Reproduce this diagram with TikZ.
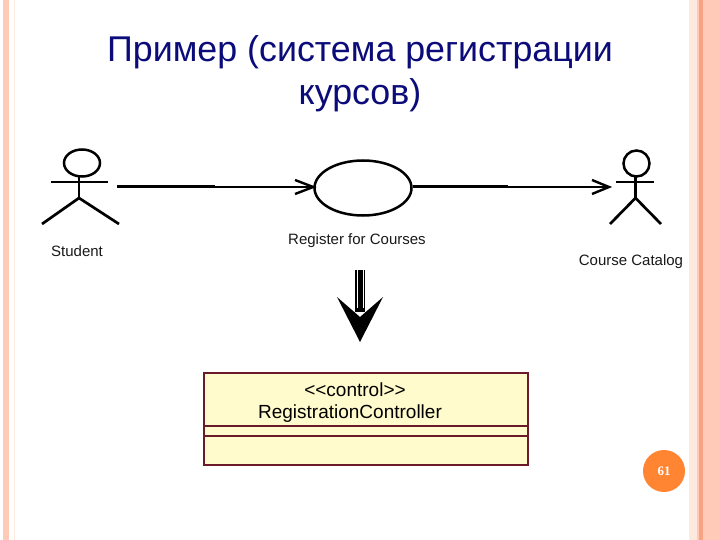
\documentclass[tikz,border=0pt]{standalone}
\usepackage{fontspec}
\usetikzlibrary{shapes.geometric}
\setmainfont{Liberation Sans}
\newfontfamily\badgefont{Liberation Serif}
\definecolor{bandsalmon}{HTML}{FFCBB8}
\definecolor{bandorange}{HTML}{F9A385}
\definecolor{bandpale}{HTML}{FDE9DE}
\definecolor{classfill}{HTML}{FFFBCC}
\definecolor{classrule}{HTML}{6B1A2A}
\definecolor{badgecol}{HTML}{FF8533}
\definecolor{titleblue}{HTML}{0B0B7A}
\tikzset{
  ink/.style={draw=black,line width=2.7pt},
  assocthick/.style={draw=black,line width=3pt},
  assocthin/.style={draw=black,line width=2pt},
  barb/.style={draw=black,line width=2.4pt},
  labeltxt/.style={inner sep=0pt,font=\fontsize{15}{17}\selectfont,text=black!90},
  classtxt/.style={inner sep=0pt,font=\fontsize{19}{21}\selectfont,text=black},
  classline/.style={draw=classrule,line width=1.6pt},
  titletxt/.style={inner sep=0pt,font=\fontsize{35.8}{40}\selectfont,text=titleblue},
  headshape/.style={ellipse,draw=black,line width=2.5pt,inner sep=0pt,fill=white},
}
\begin{document}
\begin{tikzpicture}[x=1pt,y=-1pt]
\useasboundingbox (0,0) rectangle (720,540);
\fill[white] (0,0) rectangle (720,540);
% side bands
\fill[bandsalmon] (3,0) rectangle (9,540);
\fill[bandpale] (14,0) rectangle (15,540);
\fill[bandpale] (689,0) rectangle (697,540);
\fill[bandsalmon] (697,0) rectangle (720,540);
\fill[bandorange] (699,0) rectangle (703,540);
% title
\node[titletxt] (title1) at (360,52) {Пример (система регистрации};
\node[titletxt] (title2) at (360,95) {курсов)};
% left actor
\node[headshape,minimum width=36pt,minimum height=27pt] (headL) at (82,163) {};
\coordinate (neckL) at (79,177);
\coordinate (hipL) at (79,198);
\coordinate (armLa) at (51,182);
\coordinate (armLb) at (108,182);
\coordinate (footLa) at (42,224);
\coordinate (footLb) at (119,224);
\draw[ink] (neckL) -- (hipL);
\draw[ink] (armLa) -- (armLb);
\draw[ink] (footLa) -- (hipL) -- (footLb);
\node[labeltxt] (student) at (77,251) {Student};
% right actor
\node[headshape,minimum width=26pt,minimum height=26pt] (headR) at (636.5,163.5) {};
\coordinate (neckR) at (635.5,177);
\coordinate (hipR) at (635.5,198);
\coordinate (armRa) at (616,182);
\coordinate (armRb) at (654,182);
\coordinate (footRa) at (610,224);
\coordinate (footRb) at (661,224);
\draw[ink] (neckR) -- (hipR);
\draw[ink] (armRa) -- (armRb);
\draw[ink] (footRa) -- (hipR) -- (footRb);
\node[labeltxt] (catalog) at (631,261.5) {Course Catalog};
% use case
\node[ellipse,draw=black,line width=2.5pt,inner sep=0pt,minimum width=97pt,minimum height=55pt] (usecase) at (363,188) {};
\node[labeltxt] (ucname) at (357,241) {Register for Courses};
% associations
\coordinate (assocStart) at (117,187);
\coordinate (assocEnd) at (609,187);
\coordinate (midA) at (215,187);
\coordinate (midB) at (508,187);
\coordinate (barbA1) at (295,180);
\coordinate (barbA2) at (295,194);
\coordinate (barbB1) at (592,180);
\coordinate (barbB2) at (592,194);
\draw[assocthick] (assocStart) -- (midA);
\draw[assocthin] (midA) -- (usecase.west |- assocStart);
\draw[barb] (barbA1) -- (usecase.west |- assocStart) -- (barbA2);
\draw[assocthick] (usecase.east |- assocEnd) -- (midB);
\draw[assocthin] (midB) -- (assocEnd);
\draw[barb] (barbB1) -- (assocEnd) -- (barbB2);
% class box
\node[draw=classrule,line width=2pt,fill=classfill,minimum width=324pt,minimum height=92pt,inner sep=0pt] (classbox) at (366,418.5) {};
\draw[classline] (classbox.west |- 0,426) -- (classbox.east |- 0,426);
\draw[classline] (classbox.west |- 0,436) -- (classbox.east |- 0,436);
\node[classtxt] (stereo) at (355,390) {<{}<control>{}>};
\node[classtxt] (classname) at (350,414) {RegistrationController};
% refinement arrow
\coordinate (shaftTop) at (360,270);
\coordinate (arrowTip) at (360,342);
\draw[black,line width=10pt] (shaftTop) -- (360,312);
\draw[white,line width=1pt] (357,270) -- (357,308);
\draw[white,line width=1pt] (363,270) -- (363,308);
\fill[black] (337,297) -- (arrowTip) -- (383,297) -- (360,317) -- cycle;
% page badge
\node[circle,fill=badgecol,minimum size=42pt,inner sep=0pt,text=white,font=\badgefont\bfseries\fontsize{13}{15}\selectfont] (badge) at (664,471) {61};
\end{tikzpicture}
\end{document}
